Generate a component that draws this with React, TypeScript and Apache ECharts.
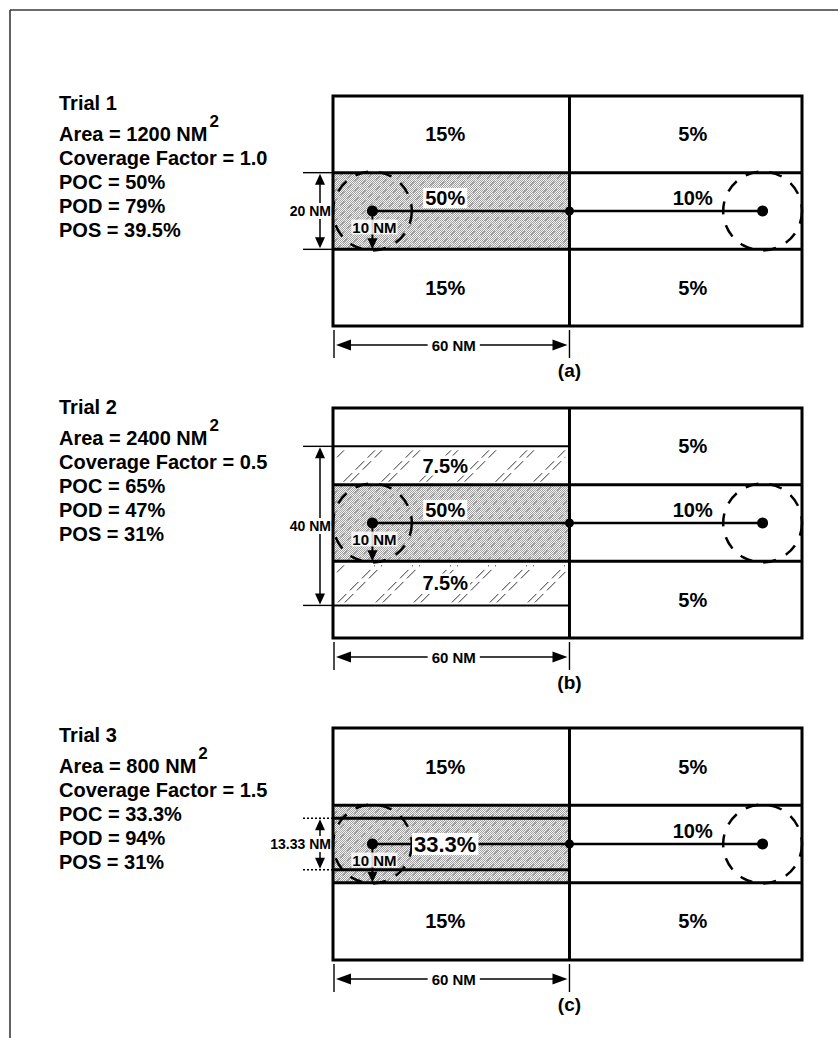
import React, { useEffect, useRef } from 'react';
import * as echarts from 'echarts';

const FONT = '"Liberation Sans", Arial, Helvetica, sans-serif';

// ---- Text block per trial ----
const trialNames = ['Trial 1', 'Trial 2', 'Trial 3'];
const searchAreas = ['1200', '2400', '800'];
const coverageFactors = ['1.0', '0.5', '1.5'];
const pocValues = ['50%', '65%', '33.3%'];
const podValues = ['79%', '47%', '94%'];
const posValues = ['39.5%', '31%', '31%'];
const panelTags = ['(a)', '(b)', '(c)'];

// ---- Geometry of the search region, in NM ----
const sweepLabels = ['20 NM', '40 NM', '13.33 NM'];
const sweepExtents = [[-10, 10], [-21.5, 20], [-6.67, 6.67]];
const trackExtent = [0, 60];
const trackLabel = '60 NM';
const radiusLabel = '10 NM';
const regionX = [0, 60, 119];
const regionY = [-30, 30];
const datumPoints = [[10, 0], [109, 0]];
const pathDots = [[10, 0], [60, 0], [109, 0]];
const radiusNM = 10;

// cells: [x0, x1, y0, y1, label, kind]
const cellsTrial1 = [
  [0, 60, 10, 30, '15%', 'plain'],
  [0, 60, -10, 10, '50%', 'shade'],
  [0, 60, -30, -10, '15%', 'plain'],
  [60, 119, 10, 30, '5%', 'plain'],
  [60, 119, -10, 10, '10%', 'plain'],
  [60, 119, -30, -10, '5%', 'plain'],
];
const cellsTrial2 = [
  [0, 60, 20, 30, '', 'plain'],
  [0, 60, 10, 20, '7.5%', 'hatch'],
  [0, 60, -10, 10, '50%', 'shade'],
  [0, 60, -21.5, -10, '7.5%', 'hatch'],
  [0, 60, -30, -21.5, '', 'plain'],
  [60, 119, 10, 30, '5%', 'plain'],
  [60, 119, -10, 10, '10%', 'plain'],
  [60, 119, -30, -10, '5%', 'plain'],
];
const cellsTrial3 = [
  [0, 60, 10, 30, '15%', 'plain'],
  [0, 60, -10, 10, '33.3%', 'shade'],
  [0, 60, -30, -10, '15%', 'plain'],
  [60, 119, 10, 30, '5%', 'plain'],
  [60, 119, -10, 10, '10%', 'plain'],
  [60, 119, -30, -10, '5%', 'plain'],
];
// rules: [y, x0, x1, weight]
const rulesTrial1 = [[10, 0, 119, 'major'], [-10, 0, 119, 'major']];
const rulesTrial2 = [[20, 0, 60, 'minor'], [10, 0, 119, 'major'], [-10, 0, 119, 'major'], [-21.5, 0, 60, 'minor']];
const rulesTrial3 = [[10, 0, 119, 'major'], [6.67, 0, 60, 'major'], [-6.67, 0, 60, 'major'], [-10, 0, 119, 'major']];

const panelCells: any[][] = [cellsTrial1, cellsTrial2, cellsTrial3];
const panelRules: any[][] = [rulesTrial1, rulesTrial2, rulesTrial3];
const centreShadeLabel = [false, false, true];

// ---- Layout (pixels) ----
const PANEL_TOP = [96, 408, 728];
const PANEL_H = [230, 230, 232];
const BOX_LEFT = 333;
const BOX_W = 469;
const TEXT_X = 59;
const TEXT_TOP = [103, 407, 735];
const LINE_OFFSETS = [0, 31, 55, 79, 103, 127];

function makeDots(): string {
  const s = 4;
  const cv = document.createElement('canvas');
  cv.width = s; cv.height = s;
  const g = cv.getContext('2d')!;
  g.fillStyle = '#f2f2f2';
  g.fillRect(0, 0, s, s);
  g.fillStyle = '#a2a2a2';
  for (let y = 0; y < s; y++) for (let x = 0; x < s; x++) if ((x + y) % 2 === 0) g.fillRect(x, y, 1, 1);
  return cv.toDataURL();
}

function measure(text: string, font: string): number {
  const cv = document.createElement('canvas');
  const g = cv.getContext('2d')!;
  g.font = font;
  return g.measureText(text).width;
}

function txt(text: string, x: number, y: number, font: string, align: string, extra: any = {}) {
  return {
    type: 'text',
    style: {
      text, x, y, font, fill: '#000',
      align, textAlign: align, verticalAlign: 'middle', textVerticalAlign: 'middle',
      ...extra,
    },
  };
}

function seg(x1: number, y1: number, x2: number, y2: number, lineWidth: number, extra: any = {}) {
  return { type: 'line', shape: { x1, y1, x2, y2 }, style: { stroke: '#000', lineWidth, ...extra } };
}

function tri(points: number[][]) {
  return { type: 'polygon', shape: { points }, style: { fill: '#000' } };
}

// diagonal "/" strokes clipped to a pixel rectangle
function diagonals(X0: number, Y0: number, X1: number, Y1: number, offsets: number[], period: number, style: any) {
  const out: any[] = [];
  for (let k0 = X0 + Y0; k0 < X1 + Y1 + period; k0 += period) {
    offsets.forEach((o) => {
      const k = k0 + o;
      const xa = Math.max(X0, k - Y1);
      const xb = Math.min(X1, k - Y0);
      if (xb - xa > 0.5) out.push({ type: 'line', shape: { x1: xa, y1: k - xa, x2: xb, y2: k - xb }, style });
    });
  }
  return out;
}

const makeRenderer = (pi: number, dotFill: any) => (_params: any, api: any) => {
  const c = (x: number, y: number) => api.coord([x, y]) as number[];
  const kids: any[] = [];
  const cells = panelCells[pi];
  const [xL, xD, xR] = regionX;
  const [yB, yT] = regionY;

  cells.forEach(([x0, x1, y0, y1, , kind]: any[]) => {
    const a = c(x0, y1), b = c(x1, y0);
    kids.push({
      type: 'rect', shape: { x: a[0], y: a[1], width: b[0] - a[0], height: b[1] - a[1] },
      style: { fill: kind === 'shade' ? dotFill : '#ffffff' },
    });
    if (kind === 'shade') {
      kids.push(...diagonals(a[0], a[1], b[0], b[1], [0], 10, { stroke: '#6a6a6a', lineWidth: 0.8, lineDash: [6, 4] }));
    } else if (kind === 'hatch') {
      kids.push(...diagonals(a[0] + 4, a[1] + 4, b[0] - 4, b[1] - 3, [0, 7], 38, { stroke: '#333', lineWidth: 1, lineDash: [12, 5] }));
    }
  });
  panelRules[pi].forEach(([y, x0, x1, w]: any[]) => {
    const a = c(x0, y), b = c(x1, y);
    kids.push(seg(a[0], a[1], b[0], b[1], w === 'major' ? 3 : 2));
  });
  const tl = c(xL, yT), br = c(xR, yB);
  kids.push({ type: 'rect', shape: { x: tl[0], y: tl[1], width: br[0] - tl[0], height: br[1] - tl[1] }, style: { fill: 'none', stroke: '#000', lineWidth: 3 } });
  const dt = c(xD, yT), db = c(xD, yB);
  kids.push(seg(dt[0], dt[1], db[0], db[1], 3));

  // datum circles
  datumPoints.forEach(([x, y]) => {
    const p = c(x, y);
    const r = c(x + radiusNM, y)[0] - p[0];
    kids.push({ type: 'circle', shape: { cx: p[0], cy: p[1], r }, style: { fill: 'none', stroke: '#000', lineWidth: 2.5, lineDash: [13, 11] } });
  });
  // track line
  const s = c(datumPoints[0][0], datumPoints[0][1]);
  const e = c(datumPoints[1][0], datumPoints[1][1]);
  kids.push(seg(s[0], s[1], e[0], e[1], 2.5));
  // radius arrow
  const tip = c(datumPoints[0][0], datumPoints[0][1] - radiusNM);
  kids.push(seg(s[0], s[1], tip[0], tip[1] - 8, 2));
  kids.push(tri([[tip[0], tip[1]], [tip[0] - 5, tip[1] - 11], [tip[0] + 5, tip[1] - 11]]));
  // dots
  pathDots.forEach(([x, y], i) => {
    const p = c(x, y);
    kids.push({ type: 'circle', shape: { cx: p[0], cy: p[1], r: i === 1 ? 4.5 : 5.5 }, style: { fill: '#000' } });
  });

  // cell labels
  cells.forEach(([x0, x1, y0, y1, label, kind]: any[]) => {
    if (!label) return;
    const onTrack = y0 < 0 && y1 > 0;
    const left = x1 <= xD;
    const cx = c((x0 + x1) / 2, 0)[0] + (left ? -6 : 7);
    let cy = c(0, onTrack ? 0 : (y0 + y1) / 2)[1];
    if (onTrack && !(centreShadeLabel[pi] && kind === 'shade')) cy -= 13;
    const size = label.length >= 5 ? 22 : 20;
    const extra = kind !== 'plain' ? { backgroundColor: '#fff', padding: [0, 2] } : {};
    kids.push(txt(label, cx, cy, `bold ${size}px ${FONT}`, 'center', extra));
  });
  // radius label
  kids.push(txt(radiusLabel, s[0] + 2, s[1] + 16, `bold 15px ${FONT}`, 'center', { backgroundColor: 'rgba(255,255,255,0.85)', padding: [0, 1] }));

  // sweep-width dimension
  const bx = c(xL, 0)[0];
  const [lo, hi] = sweepExtents[pi];
  const yt = c(0, hi)[1], yb = c(0, lo)[1];
  const ax = bx - 13;
  const dash = pi === 2 ? { lineDash: [2, 2] } : {};
  kids.push(seg(bx - 30, yt, bx, yt, 1.4, dash));
  kids.push(seg(bx - 30, yb, bx, yb, 1.4, dash));
  kids.push(seg(ax, yt + 8, ax, yb - 8, 1.5));
  kids.push(tri([[ax, yt + 1], [ax - 5, yt + 12], [ax + 5, yt + 12]]));
  kids.push(tri([[ax, yb - 1], [ax - 5, yb - 12], [ax + 5, yb - 12]]));
  kids.push(txt(sweepLabels[pi], bx - 2, (yt + yb) / 2, `bold 14px ${FONT}`, 'right', { backgroundColor: '#fff', padding: [1, 0] }));

  // track-length dimension
  const boxBottom = c(0, yB)[1];
  const tx0 = c(trackExtent[0], 0)[0] + 1;
  const tx1 = c(trackExtent[1], 0)[0];
  const ty = boxBottom + 19;
  kids.push(seg(tx0, boxBottom + 4, tx0, boxBottom + 32, 1.4));
  kids.push(seg(tx1, boxBottom + 4, tx1, boxBottom + 32, 1.4));
  kids.push(seg(tx0 + 8, ty, tx1 - 8, ty, 1.5));
  kids.push(tri([[tx0 + 2, ty], [tx0 + 17, ty - 5.5], [tx0 + 17, ty + 5.5]]));
  kids.push(tri([[tx1 - 2, ty], [tx1 - 17, ty - 5.5], [tx1 - 17, ty + 5.5]]));
  kids.push(txt(trackLabel, (tx0 + tx1) / 2 + 2, ty, `bold 15px ${FONT}`, 'center', { backgroundColor: '#fff', padding: [0, 4] }));
  kids.push(txt(panelTags[pi], tx1, boxBottom + 44, `bold 19px ${FONT}`, 'center'));

  return { type: 'group', children: kids };
};

export default function App() {
  const ref = useRef<HTMLDivElement>(null);
  useEffect(() => {
    const el = ref.current!;
    const chart = echarts.init(el, null, { renderer: 'svg' });
    const dotFill = { image: makeDots(), repeat: 'repeat', imageWidth: 4, imageHeight: 4 };

    const mainFont = `bold 20px ${FONT}`;
    const graphics: any[] = [
      { type: 'line', shape: { x1: 10, y1: 10, x2: 838, y2: 10 }, style: { stroke: '#3a3a3a', lineWidth: 1.6 } },
      { type: 'line', shape: { x1: 10, y1: 10, x2: 10, y2: 1038 }, style: { stroke: '#3a3a3a', lineWidth: 1.6 } },
    ];
    trialNames.forEach((name, i) => {
      const lines = [
        name,
        `Area = ${searchAreas[i]} NM`,
        `Coverage Factor = ${coverageFactors[i]}`,
        `POC = ${pocValues[i]}`,
        `POD = ${podValues[i]}`,
        `POS = ${posValues[i]}`,
      ];
      lines.forEach((t, k) => {
        graphics.push({
          type: 'text', x: TEXT_X, y: TEXT_TOP[i] + LINE_OFFSETS[k],
          style: { text: t, font: mainFont, fill: '#000', textVerticalAlign: 'middle', verticalAlign: 'middle' },
        });
      });
      const w = measure(lines[1], mainFont);
      graphics.push({
        type: 'text', x: TEXT_X + w + 2, y: TEXT_TOP[i] + LINE_OFFSETS[1] - 13,
        style: { text: '2', font: `bold 17px ${FONT}`, fill: '#000', textVerticalAlign: 'middle', verticalAlign: 'middle' },
      });
    });

    const idx = [0, 1, 2];
    chart.setOption({
      animation: false,
      backgroundColor: '#fff',
      grid: idx.map((i) => ({ left: BOX_LEFT, top: PANEL_TOP[i], width: BOX_W, height: PANEL_H[i], show: false })),
      xAxis: idx.map((i) => ({ type: 'value', gridIndex: i, min: regionX[0], max: regionX[2], show: false })),
      yAxis: idx.map((i) => ({ type: 'value', gridIndex: i, min: regionY[0], max: regionY[1], show: false })),
      series: idx.map((i) => ({
        type: 'custom', xAxisIndex: i, yAxisIndex: i, silent: true, clip: false,
        data: [[0, 0]], renderItem: makeRenderer(i, dotFill),
      })),
      graphic: { elements: graphics },
    });
    return () => chart.dispose();
  }, []);
  return <div ref={ref} style={{ position: 'absolute', left: 0, top: 0, width: 838, height: 1038, background: '#fff' }} />;
}
